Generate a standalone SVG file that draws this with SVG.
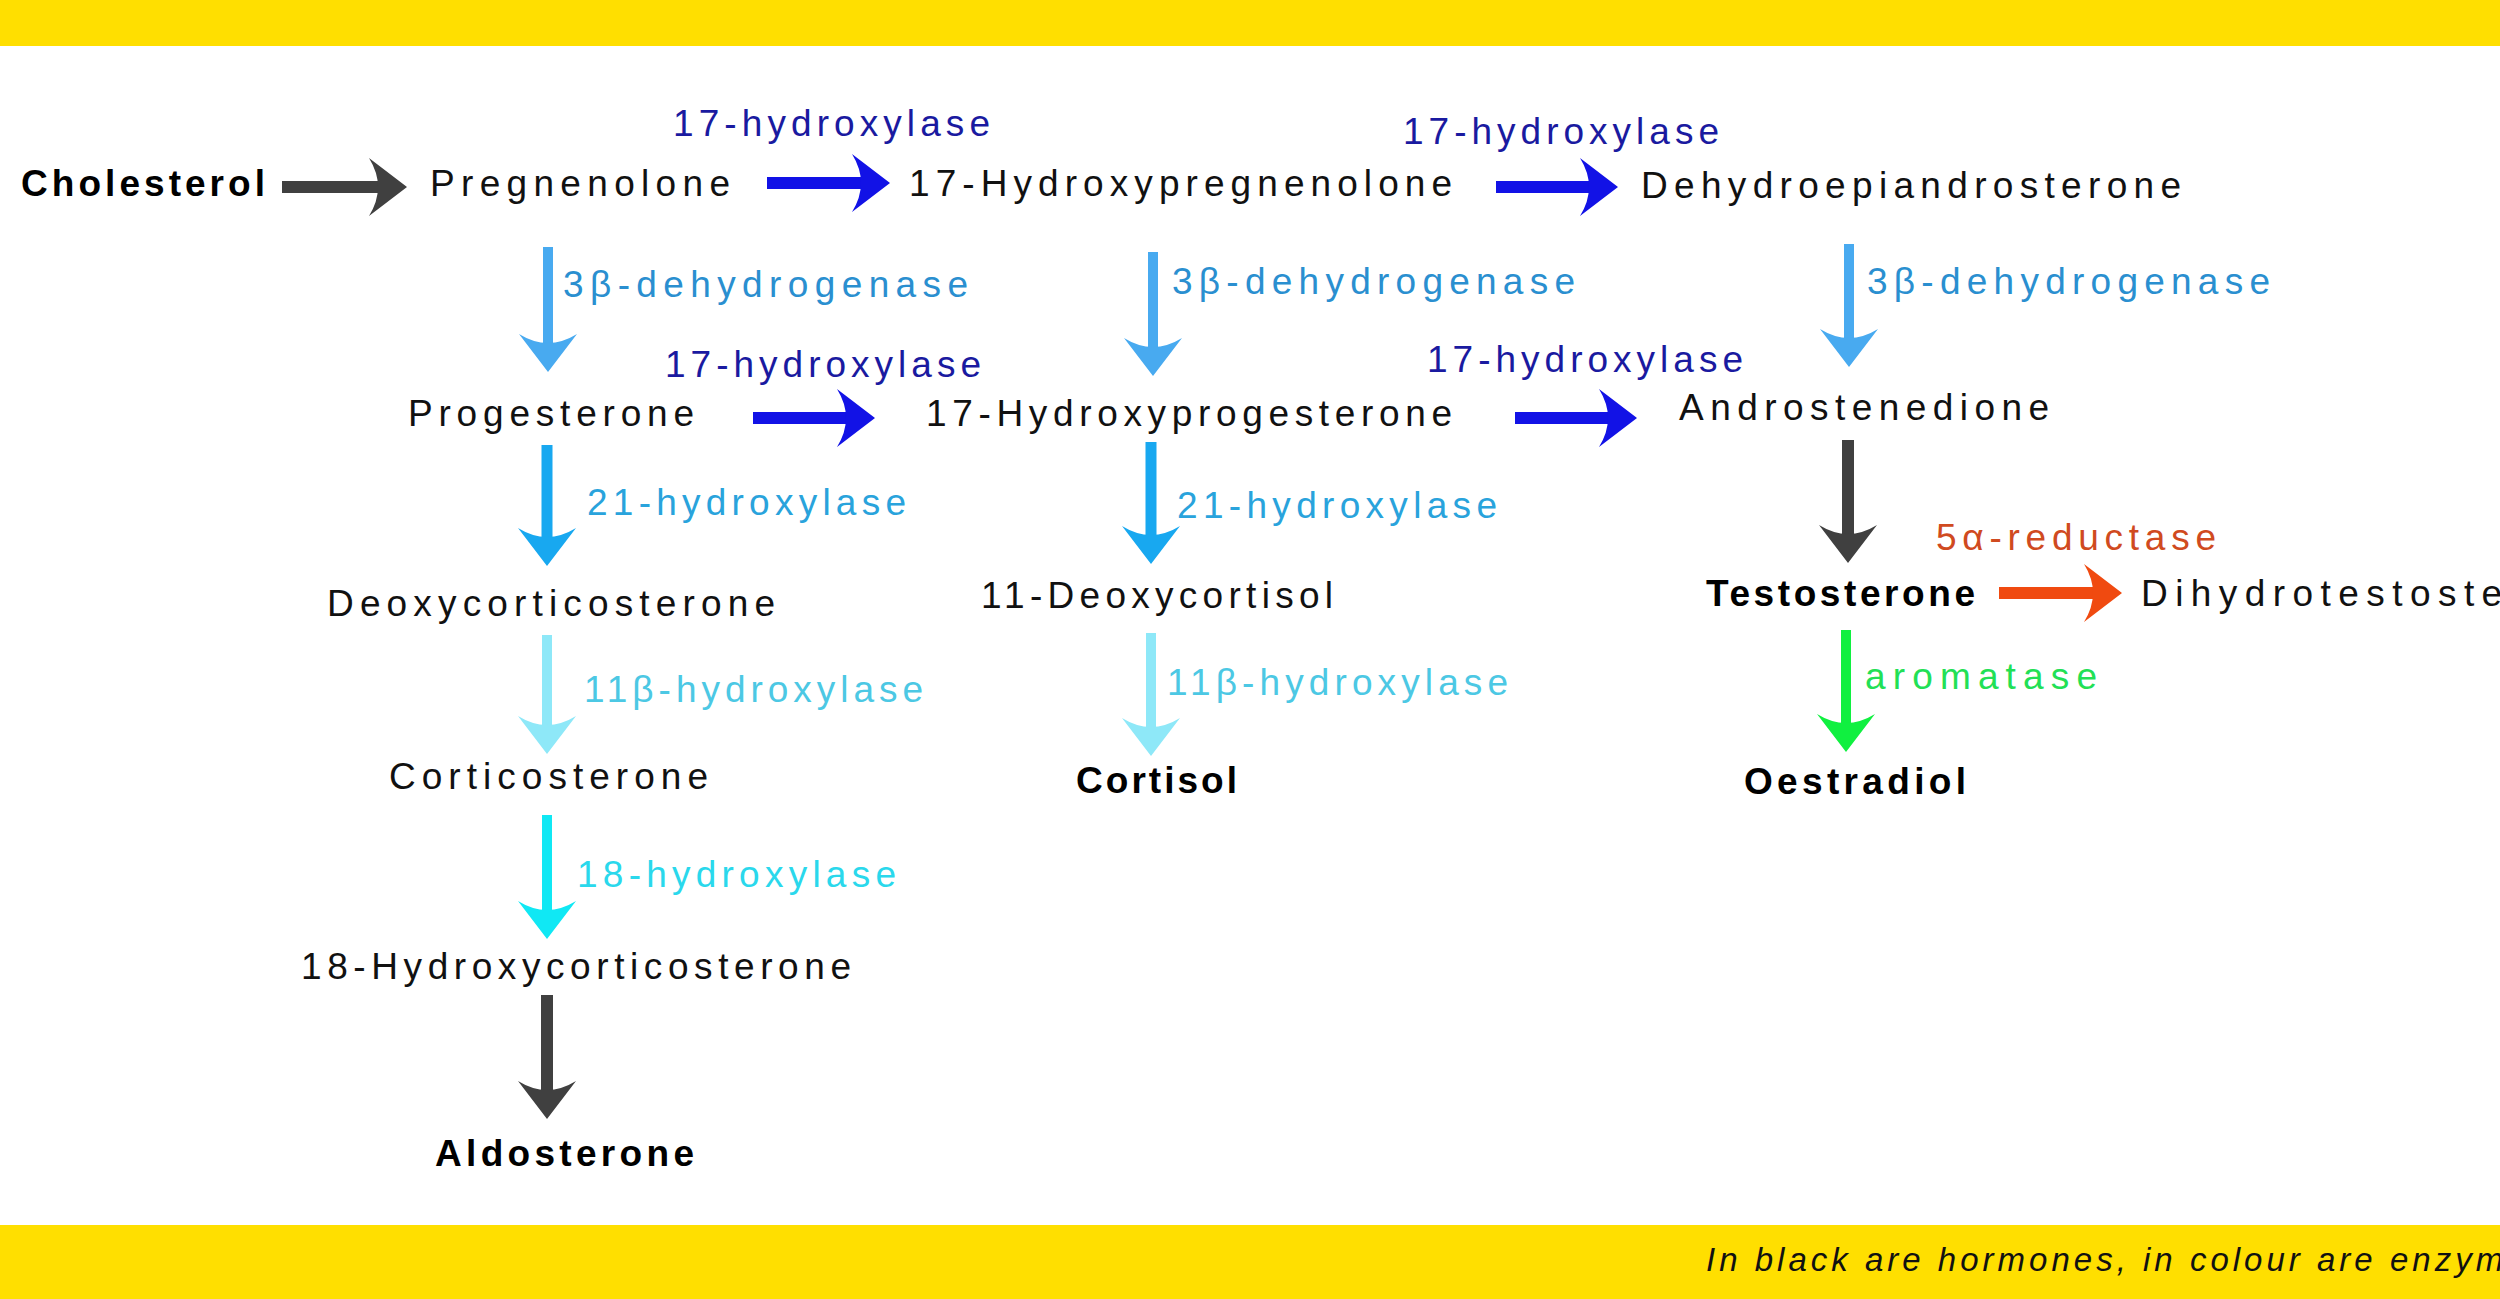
<svg xmlns="http://www.w3.org/2000/svg" xmlns:xlink="http://www.w3.org/1999/xlink" width="2500" height="1299" viewBox="0 0 2500 1299">
<style>
text{font-family:"Liberation Sans",Arial,sans-serif;font-size:37px;lengthAdjust:spacing}
.h{fill:#111}
.b{font-weight:bold;fill:#000}
.e1{fill:#1a1aa0}
.e2{fill:#2a8fd0}
.e3{fill:#29a3dc}
.e4{fill:#4cc8e4}
.e5{fill:#2ad8ec}
.e6{fill:#d04a20}
.e7{fill:#22e055}
.ft{font-style:italic;font-size:33px;fill:#111}
.s{fill:none}
</style>
<defs>
<path id="hd" d="M0,0 L-38,-29 Q-20,0 -38,29 Z"/>
</defs>
<rect width="2500" height="1299" fill="#fff"/>
<rect width="2500" height="46" fill="#ffdf00"/>
<rect y="1225" width="2500" height="74" fill="#ffdf00"/>
<text class="ft" x="1706" y="1271" textLength="840">In black are hormones, in colour are enzymes</text>

<g id="connectors">
<g stroke="#404040" fill="#404040">
<line x1="282" y1="187" x2="385" y2="187" stroke-width="12"/><use xlink:href="#hd" transform="translate(407,187)" stroke="none"/>
<line x1="1848" y1="440" x2="1848" y2="540" stroke-width="12"/><use xlink:href="#hd" transform="translate(1848,563) rotate(90)" stroke="none"/>
<line x1="547" y1="995" x2="547" y2="1096" stroke-width="12"/><use xlink:href="#hd" transform="translate(547,1119) rotate(90)" stroke="none"/>
</g>
<g stroke="#1212e6" fill="#1212e6">
<line x1="767" y1="183" x2="868" y2="183" stroke-width="12"/><use xlink:href="#hd" transform="translate(890,183)" stroke="none"/>
<line x1="1496" y1="187" x2="1596" y2="187" stroke-width="12"/><use xlink:href="#hd" transform="translate(1618,187)" stroke="none"/>
<line x1="753" y1="418" x2="853" y2="418" stroke-width="12"/><use xlink:href="#hd" transform="translate(875,418)" stroke="none"/>
<line x1="1515" y1="418" x2="1615" y2="418" stroke-width="12"/><use xlink:href="#hd" transform="translate(1637,418)" stroke="none"/>
</g>
<g stroke="#f04a10" fill="#f04a10">
<line x1="1999" y1="593" x2="2100" y2="593" stroke-width="12"/><use xlink:href="#hd" transform="translate(2122,593)" stroke="none"/>
</g>
<g stroke="#48aaf0" fill="#48aaf0">
<line x1="548" y1="247" x2="548" y2="350" stroke-width="10"/><use xlink:href="#hd" transform="translate(548,372) rotate(90)" stroke="none"/>
<line x1="1153" y1="252" x2="1153" y2="354" stroke-width="10"/><use xlink:href="#hd" transform="translate(1153,376) rotate(90)" stroke="none"/>
<line x1="1849" y1="244" x2="1849" y2="345" stroke-width="10"/><use xlink:href="#hd" transform="translate(1849,367) rotate(90)" stroke="none"/>
</g>
<g stroke="#18a8f0" fill="#18a8f0">
<line x1="547" y1="445" x2="547" y2="544" stroke-width="11"/><use xlink:href="#hd" transform="translate(547,566) rotate(90)" stroke="none"/>
<line x1="1151" y1="442" x2="1151" y2="542" stroke-width="11"/><use xlink:href="#hd" transform="translate(1151,564) rotate(90)" stroke="none"/>
</g>
<g stroke="#8ee8f8" fill="#8ee8f8">
<line x1="547" y1="635" x2="547" y2="732" stroke-width="10"/><use xlink:href="#hd" transform="translate(547,754) rotate(90)" stroke="none"/>
<line x1="1151" y1="633" x2="1151" y2="734" stroke-width="10"/><use xlink:href="#hd" transform="translate(1151,756) rotate(90)" stroke="none"/>
</g>
<g stroke="#10f040" fill="#10f040">
<line x1="1846" y1="630" x2="1846" y2="730" stroke-width="10"/><use xlink:href="#hd" transform="translate(1846,752) rotate(90)" stroke="none"/>
</g>
<g stroke="#10e8f4" fill="#10e8f4">
<line x1="547" y1="815" x2="547" y2="917" stroke-width="10"/><use xlink:href="#hd" transform="translate(547,939) rotate(90)" stroke="none"/>
</g>
</g>

<g id="enzymes">
<text class="e1" x="673" y="136" textLength="317">17-hydroxylase</text>
<text class="e1" x="1403" y="144" textLength="316">17-hydroxylase</text>
<text class="e2" x="563" y="297" textLength="405">3β-dehydrogenase</text>
<text class="e2" x="1172" y="294" textLength="403">3β-dehydrogenase</text>
<text class="e2" x="1867" y="294" textLength="403">3β-dehydrogenase</text>
<text class="e1" x="665" y="377" textLength="316">17-hydroxylase</text>
<text class="e1" x="1427" y="372" textLength="316">17-hydroxylase</text>
<text class="e3" x="587" y="515" textLength="319">21-hydroxylase</text>
<text class="e3" x="1177" y="518" textLength="320">21-hydroxylase</text>
<text class="e4" x="584" y="702" textLength="339">11β-hydroxylase</text>
<text class="e4" x="1167" y="695" textLength="341">11β-hydroxylase</text>
<text class="e5" x="577" y="887" textLength="319">18-hydroxylase</text>
<text class="e6" x="1936" y="550" textLength="280">5α-reductase</text>
<text class="e7" x="1865" y="689" textLength="232">aromatase</text>
</g>

<g id="n-cholesterol"><text class="b" x="21" y="196" textLength="244">Cholesterol</text></g>
<g id="n-pregnenolone"><text class="h" x="430" y="196" textLength="300">Pregnenolone</text></g>
<g id="n-17hp"><text class="h" x="909" y="196" textLength="543">17-Hydroxypregnenolone</text></g>
<g id="n-dhea"><text class="h" x="1641" y="198" textLength="540">Dehydroepiandrosterone</text></g>
<g id="n-progesterone"><text class="h" x="408" y="426" textLength="286">Progesterone</text></g>
<g id="n-17ohp"><text class="h" x="926" y="426" textLength="526">17-Hydroxyprogesterone</text></g>
<g id="n-androstenedione"><text class="h" x="1679" y="420" textLength="370">Androstenedione</text></g>
<g id="n-deoxycorticosterone"><text class="h" x="327" y="616" textLength="448">Deoxycorticosterone</text></g>
<g id="n-11deoxycortisol"><text class="h" x="981" y="608" textLength="352">11-Deoxycortisol</text></g>
<g id="n-testosterone"><text class="b" x="1706" y="606" textLength="269">Testosterone</text></g>
<g id="n-dht"><text class="h" x="2141" y="606" textLength="465">Dihydrotestosterone</text></g>
<g id="n-corticosterone"><text class="h" x="389" y="789" textLength="319">Corticosterone</text></g>
<g id="n-cortisol"><text class="b" x="1076" y="793" textLength="161">Cortisol</text></g>
<g id="n-oestradiol"><text class="b" x="1744" y="794" textLength="222">Oestradiol</text></g>
<g id="n-18ohc"><text class="h" x="301" y="979" textLength="550">18-Hydroxycorticosterone</text></g>
<g id="n-aldosterone"><text class="b" x="435" y="1166" textLength="259">Aldosterone</text></g>
</svg>
